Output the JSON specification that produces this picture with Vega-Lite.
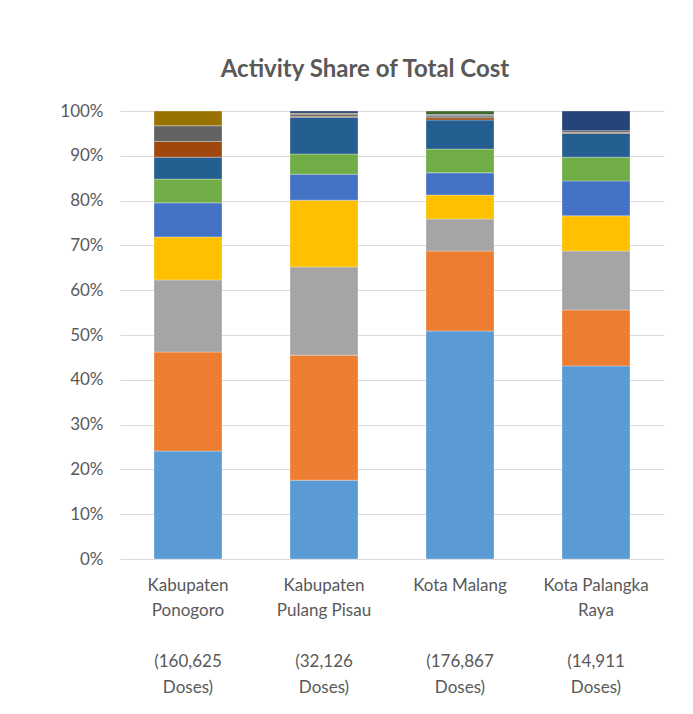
{
  "$schema": "https://vega.github.io/schema/vega-lite/v6.json",
  "width": 544,
  "height": 448,
  "autosize": {"type": "none"},
  "padding": {"left": 120, "top": 111, "right": 29, "bottom": 155},
  "background": "white",
  "title": {
    "text": "Activity Share of Total Cost",
    "fontSize": 24,
    "font": "Lato",
    "fontWeight": "bold",
    "color": "#595959",
    "anchor": "middle",
    "dx": -27,
    "offset": 20
  },
  "data": {
    "values": [
      {"site": "Kabupaten|Ponogoro|\u200b|(160,625|Doses)", "activity": "Activity 1", "k": 1, "share": 24.1},
      {"site": "Kabupaten|Ponogoro|\u200b|(160,625|Doses)", "activity": "Activity 2", "k": 2, "share": 22.1},
      {"site": "Kabupaten|Ponogoro|\u200b|(160,625|Doses)", "activity": "Activity 3", "k": 3, "share": 16.1},
      {"site": "Kabupaten|Ponogoro|\u200b|(160,625|Doses)", "activity": "Activity 4", "k": 4, "share": 9.6},
      {"site": "Kabupaten|Ponogoro|\u200b|(160,625|Doses)", "activity": "Activity 5", "k": 5, "share": 7.6},
      {"site": "Kabupaten|Ponogoro|\u200b|(160,625|Doses)", "activity": "Activity 6", "k": 6, "share": 5.3},
      {"site": "Kabupaten|Ponogoro|\u200b|(160,625|Doses)", "activity": "Activity 7", "k": 7, "share": 4.9},
      {"site": "Kabupaten|Ponogoro|\u200b|(160,625|Doses)", "activity": "Activity 8", "k": 8, "share": 3.5},
      {"site": "Kabupaten|Ponogoro|\u200b|(160,625|Doses)", "activity": "Activity 9", "k": 9, "share": 3.5},
      {"site": "Kabupaten|Ponogoro|\u200b|(160,625|Doses)", "activity": "Activity 10", "k": 10, "share": 3.3},
      {"site": "Kabupaten|Pulang Pisau|\u200b|(32,126|Doses)", "activity": "Activity 1", "k": 1, "share": 17.6},
      {"site": "Kabupaten|Pulang Pisau|\u200b|(32,126|Doses)", "activity": "Activity 2", "k": 2, "share": 27.9},
      {"site": "Kabupaten|Pulang Pisau|\u200b|(32,126|Doses)", "activity": "Activity 3", "k": 3, "share": 19.7},
      {"site": "Kabupaten|Pulang Pisau|\u200b|(32,126|Doses)", "activity": "Activity 4", "k": 4, "share": 14.9},
      {"site": "Kabupaten|Pulang Pisau|\u200b|(32,126|Doses)", "activity": "Activity 5", "k": 5, "share": 5.8},
      {"site": "Kabupaten|Pulang Pisau|\u200b|(32,126|Doses)", "activity": "Activity 6", "k": 6, "share": 4.5},
      {"site": "Kabupaten|Pulang Pisau|\u200b|(32,126|Doses)", "activity": "Activity 7", "k": 7, "share": 8.2},
      {"site": "Kabupaten|Pulang Pisau|\u200b|(32,126|Doses)", "activity": "Activity 8", "k": 8, "share": 0.2},
      {"site": "Kabupaten|Pulang Pisau|\u200b|(32,126|Doses)", "activity": "Activity 9", "k": 9, "share": 0.5},
      {"site": "Kabupaten|Pulang Pisau|\u200b|(32,126|Doses)", "activity": "Activity 10", "k": 10, "share": 0.2},
      {"site": "Kabupaten|Pulang Pisau|\u200b|(32,126|Doses)", "activity": "Activity 11", "k": 11, "share": 0.5},
      {"site": "Kota Malang|\u200b|\u200b|(176,867|Doses)", "activity": "Activity 1", "k": 1, "share": 50.9},
      {"site": "Kota Malang|\u200b|\u200b|(176,867|Doses)", "activity": "Activity 2", "k": 2, "share": 17.85},
      {"site": "Kota Malang|\u200b|\u200b|(176,867|Doses)", "activity": "Activity 3", "k": 3, "share": 7.15},
      {"site": "Kota Malang|\u200b|\u200b|(176,867|Doses)", "activity": "Activity 4", "k": 4, "share": 5.35},
      {"site": "Kota Malang|\u200b|\u200b|(176,867|Doses)", "activity": "Activity 5", "k": 5, "share": 4.95},
      {"site": "Kota Malang|\u200b|\u200b|(176,867|Doses)", "activity": "Activity 6", "k": 6, "share": 5.3},
      {"site": "Kota Malang|\u200b|\u200b|(176,867|Doses)", "activity": "Activity 7", "k": 7, "share": 6.5},
      {"site": "Kota Malang|\u200b|\u200b|(176,867|Doses)", "activity": "Activity 8", "k": 8, "share": 0.5},
      {"site": "Kota Malang|\u200b|\u200b|(176,867|Doses)", "activity": "Activity 9", "k": 9, "share": 0.4},
      {"site": "Kota Malang|\u200b|\u200b|(176,867|Doses)", "activity": "Activity 10", "k": 10, "share": 0.1},
      {"site": "Kota Malang|\u200b|\u200b|(176,867|Doses)", "activity": "Activity 11", "k": 11, "share": 0.2},
      {"site": "Kota Malang|\u200b|\u200b|(176,867|Doses)", "activity": "Activity 12", "k": 12, "share": 0.8},
      {"site": "Kota Palangka|Raya|\u200b|(14,911|Doses)", "activity": "Activity 1", "k": 1, "share": 43.1},
      {"site": "Kota Palangka|Raya|\u200b|(14,911|Doses)", "activity": "Activity 2", "k": 2, "share": 12.5},
      {"site": "Kota Palangka|Raya|\u200b|(14,911|Doses)", "activity": "Activity 3", "k": 3, "share": 13.15},
      {"site": "Kota Palangka|Raya|\u200b|(14,911|Doses)", "activity": "Activity 4", "k": 4, "share": 7.85},
      {"site": "Kota Palangka|Raya|\u200b|(14,911|Doses)", "activity": "Activity 5", "k": 5, "share": 7.8},
      {"site": "Kota Palangka|Raya|\u200b|(14,911|Doses)", "activity": "Activity 6", "k": 6, "share": 5.3},
      {"site": "Kota Palangka|Raya|\u200b|(14,911|Doses)", "activity": "Activity 7", "k": 7, "share": 5.3},
      {"site": "Kota Palangka|Raya|\u200b|(14,911|Doses)", "activity": "Activity 8", "k": 8, "share": 0.2},
      {"site": "Kota Palangka|Raya|\u200b|(14,911|Doses)", "activity": "Activity 9", "k": 9, "share": 0.4},
      {"site": "Kota Palangka|Raya|\u200b|(14,911|Doses)", "activity": "Activity 11", "k": 11, "share": 4.4}
    ]
  },
  "mark": {"type": "bar", "stroke": "white", "strokeWidth": 0.5, "strokeOpacity": 0.6},
  "encoding": {
    "x": {
      "field": "site",
      "type": "nominal",
      "sort": null,
      "scale": {"paddingInner": 0.5, "paddingOuter": 0.25},
      "axis": {
        "title": null,
        "labelAngle": 0,
        "labelExpr": "split(datum.label, '|')",
        "labelFont": "Lato",
        "labelFontSize": 17,
        "labelColor": "#595959",
        "labelLineHeight": 25.5,
        "labelPadding": 18,
        "labelBaseline": "top",
        "ticks": false,
        "domain": false
      }
    },
    "y": {
      "field": "share",
      "type": "quantitative",
      "stack": "normalize",
      "scale": {"domain": [0, 1]},
      "axis": {
        "title": null,
        "values": [0, 0.1, 0.2, 0.3, 0.4, 0.5, 0.6, 0.7, 0.8, 0.9, 1],
        "format": ".0%",
        "labelFont": "Lato",
        "labelFontSize": 17,
        "labelColor": "#595959",
        "labelPadding": 17,
        "ticks": false,
        "domain": false,
        "gridColor": "#D9D9D9",
        "gridWidth": 1
      }
    },
    "color": {
      "field": "activity",
      "type": "nominal",
      "scale": {
        "domain": ["Activity 1", "Activity 2", "Activity 3", "Activity 4", "Activity 5", "Activity 6", "Activity 7", "Activity 8", "Activity 9", "Activity 10", "Activity 11", "Activity 12"],
        "range": ["#5B9BD5", "#ED7D31", "#A5A5A5", "#FFC000", "#4472C4", "#70AD47", "#255E91", "#9E480E", "#636363", "#997300", "#264478", "#43682B"]
      },
      "legend": null
    },
    "order": {"field": "k", "type": "quantitative", "sort": "ascending"}
  },
  "config": {"view": {"stroke": null}}
}
